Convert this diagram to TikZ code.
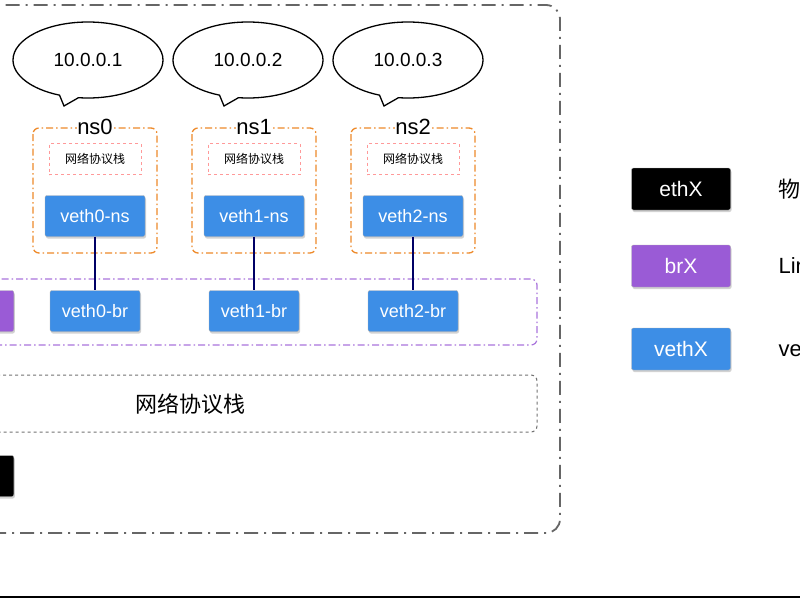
\documentclass[tikz,border=0pt]{standalone}
\usepackage{fontspec}
\setmainfont{Liberation Sans}
\newfontfamily\cjk{Noto Sans CJK SC}
\usetikzlibrary{shapes.callouts,shadows}
\definecolor{vblue}{HTML}{3D8EE6}
\definecolor{bpurple}{HTML}{9A5BD6}
\definecolor{orng}{HTML}{EE8A2A}
\begin{document}
\begin{tikzpicture}[x=1pt,y=-1pt,
  box/.style={draw=black!30,rounded corners=2pt,minimum height=41pt,text=white,font=\fontsize{18}{18}\selectfont,drop shadow={shadow xshift=1pt,shadow yshift=-2pt,opacity=0.35}},
  vb/.style={box,fill=vblue,minimum width=100pt},
  vbr/.style={box,fill=vblue,minimum width=90pt},
  bubble/.style={ellipse callout,draw,line width=1.3pt,minimum width=150pt,minimum height=76pt,font=\fontsize{19}{19}\selectfont},
  nsbox/.style={draw=orng,line width=1.3pt,dash pattern=on 7pt off 3pt on 1.5pt off 3pt,rounded corners=6pt},
  stk/.style={draw=red!40,line width=0.9pt,dashed,font=\cjk\fontsize{12}{12}\selectfont},
  wire/.style={draw=blue!40!black,line width=1.8pt}]
\useasboundingbox (0,0) rectangle (800,600);
\clip (0,0) rectangle (800,600);
\fill[white] (0,0) rectangle (800,600);
% outer frame
\draw[black!60,line width=1.8pt,dash pattern=on 14pt off 6pt on 2pt off 6pt,rounded corners=14pt] (-60,5) rectangle (560,533);
\draw[black,line width=2.5pt] (-5,597) -- (805,597);
% bubbles
\foreach \i/\x in {0/88,1/248,2/408}{
  \node[bubble,callout absolute pointer={(\x-24,106)}] (ip\i) at (\x,60) {10.0.0.\the\numexpr\i+1\relax};
}
% ns boxes
\foreach \i/\x in {0/95,1/254,2/413}{
  \draw[nsbox] (\x-62,128) rectangle (\x+62,253);
  \node[fill=white,inner sep=0pt,font=\fontsize{22}{22}\selectfont] (nsl\i) at (\x,127) {ns\i};
  \node[stk,minimum width=92pt,minimum height=31pt] (st\i) at (\x,159) {网络协议栈};
  \node[vb] (vn\i) at (\x,216) {veth\i-ns};
  \node[vbr] (vr\i) at (\x,311) {veth\i-br};
}
% purple bridge region
\draw[bpurple!85,line width=1.2pt,dash pattern=on 7pt off 3pt on 1.5pt off 3pt,rounded corners=6pt] (-20,279) rectangle (537,345);
\node[box,fill=bpurple,minimum width=60pt,anchor=east] (br0) at (14,311) {};
\foreach \i in {0,1,2}{\draw[wire] (vn\i) -- (vr\i);}
% host stack
\draw[black!55,line width=1pt,dashed,rounded corners=6pt] (-20,375) rectangle (537,432);
\node[font=\cjk\fontsize{22}{22}\selectfont] (hst) at (190,404) {网络协议栈};
\node[box,fill=black,minimum width=60pt,anchor=east] (eth0) at (14,476) {};
% legend
\node[box,fill=black,minimum width=99pt,minimum height=42pt,font=\fontsize{21}{21}\selectfont] (le) at (681,189) {ethX};
\node[box,fill=bpurple,minimum width=99pt,minimum height=42pt,font=\fontsize{21}{21}\selectfont] (lb) at (681,266) {brX};
\node[box,fill=vblue,minimum width=99pt,minimum height=42pt,font=\fontsize{21}{21}\selectfont] (lv) at (681,349) {vethX};
\node[anchor=west,font=\cjk\fontsize{22}{22}\selectfont] (te) at (775,189) {物理网卡};
\node[anchor=west,font=\fontsize{22}{22}\selectfont] (tb) at (775,268) {Linux Bridge};
\node[anchor=west,font=\fontsize{22}{22}\selectfont] (tv) at (775,351) {veth pair};
\end{tikzpicture}
\end{document}
